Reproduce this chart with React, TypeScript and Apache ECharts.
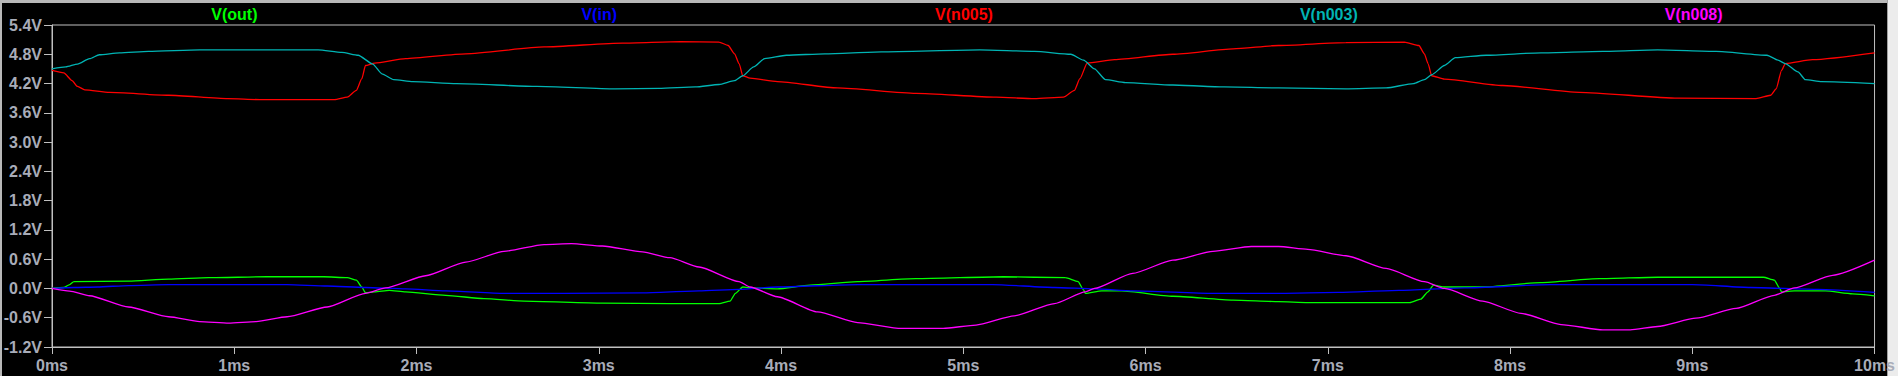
import React, { useEffect, useRef } from "react";
import * as echarts from "echarts";

const traceNames = ["V(out)", "V(in)", "V(n005)", "V(n003)", "V(n008)"];
const traceColors = ["#00ff00", "#0000ff", "#ff0000", "#00b4b4", "#ff00ff"];

const xTicksMs = { min: 0, max: 10, interval: 1 };
const yTicksV = { min: -1.2, max: 5.4, interval: 0.6 };

const outData = [
  [0, 0], [0.065, 0.02], [0.097, 0.08], [0.12, 0.14], [0.42, 0.15], [0.64, 0.19], [0.86, 0.22], [1.18, 0.24],
  [1.49, 0.24], [1.62, 0.22], [1.67, 0.17], [1.7, 0.03], [1.72, -0.09], [1.77, -0.07], [1.85, -0.04], [1.94, -0.07],
  [2.16, -0.14], [2.37, -0.21], [2.59, -0.26], [3.02, -0.3], [3.39, -0.31], [3.66, -0.31], [3.72, -0.26], [3.75, -0.1],
  [3.79, 0.03], [3.83, 0.01], [3.98, -0.01], [4.16, 0.07], [4.42, 0.14], [4.74, 0.2], [5.22, 0.24], [5.56, 0.22],
  [5.63, 0.14], [5.66, -0.03], [5.67, -0.1], [5.76, -0.05], [5.87, -0.05], [6.15, -0.16], [6.48, -0.24], [6.73, -0.27],
  [6.89, -0.29], [7.45, -0.29], [7.51, -0.22], [7.55, -0.07], [7.58, 0.07], [7.64, 0.03], [7.85, 0.03], [8.17, 0.12],
  [8.49, 0.2], [8.81, 0.23], [9.39, 0.23], [9.45, 0.17], [9.48, 0.0], [9.49, -0.07], [9.56, -0.05], [9.73, -0.05],
  [9.88, -0.11], [10, -0.15],
];

const inData = [
  [0, 0], [0.12, 0.02], [0.25, 0.03], [0.42, 0.06], [0.64, 0.08], [1.29, 0.08], [1.51, 0.05], [1.72, 0.02],
  [1.94, -0.01], [2.16, -0.05], [2.48, -0.1], [2.81, -0.1], [3.24, -0.09], [3.55, -0.05], [3.77, -0.02], [3.98, 0.03],
  [4.42, 0.08], [5.16, 0.08], [5.5, 0.02], [5.72, -0.01], [5.93, -0.05], [6.37, -0.1], [6.73, -0.1], [7.06, -0.08],
  [7.39, -0.04], [7.75, 0.01], [8.22, 0.08], [9.0, 0.08], [9.32, 0.02], [9.69, -0.02], [10, -0.08],
];

const n005Data = [
  [0, 4.47], [0.065, 4.42], [0.11, 4.26], [0.14, 4.14], [0.18, 4.07], [0.315, 4.02], [0.64, 3.96], [0.965, 3.89],
  [1.14, 3.87], [1.55, 3.87], [1.62, 3.92], [1.67, 4.06], [1.7, 4.3], [1.72, 4.57], [1.77, 4.62], [1.94, 4.71],
  [2.27, 4.81], [2.7, 4.95], [3.13, 5.03], [3.45, 5.06], [3.66, 5.05], [3.71, 4.98], [3.745, 4.81], [3.77, 4.61],
  [3.79, 4.36], [3.83, 4.31], [3.98, 4.24], [4.31, 4.11], [4.74, 4.0], [5.18, 3.92], [5.39, 3.89], [5.55, 3.92],
  [5.61, 4.06], [5.64, 4.3], [5.68, 4.62], [5.83, 4.69], [6.15, 4.8], [6.48, 4.91], [6.73, 4.98], [7.1, 5.04],
  [7.42, 5.05], [7.5, 4.98], [7.53, 4.81], [7.55, 4.61], [7.57, 4.36], [7.64, 4.29], [7.96, 4.16], [8.38, 4.02],
  [8.92, 3.9], [9.35, 3.89], [9.43, 3.96], [9.46, 4.09], [9.49, 4.47], [9.51, 4.61], [9.66, 4.69], [10, 4.83],
];

const n003Data = [
  [0, 4.5], [0.076, 4.54], [0.14, 4.6], [0.206, 4.71], [0.26, 4.79], [0.37, 4.83], [0.53, 4.86], [0.81, 4.89],
  [1.46, 4.89], [1.59, 4.84], [1.68, 4.78], [1.76, 4.6], [1.81, 4.4], [1.875, 4.28], [1.98, 4.24], [2.22, 4.2],
  [2.66, 4.14], [3.09, 4.09], [3.33, 4.1], [3.53, 4.13], [3.66, 4.18], [3.745, 4.26], [3.79, 4.36], [3.85, 4.54],
  [3.91, 4.71], [4.03, 4.78], [4.24, 4.81], [4.55, 4.85], [5.09, 4.89], [5.39, 4.86], [5.59, 4.8], [5.66, 4.68],
  [5.72, 4.5], [5.78, 4.28], [5.89, 4.22], [6.15, 4.17], [6.43, 4.13], [6.73, 4.11], [7.1, 4.09], [7.32, 4.11],
  [7.47, 4.2], [7.53, 4.28], [7.57, 4.38], [7.64, 4.57], [7.7, 4.73], [7.87, 4.78], [8.17, 4.83], [8.51, 4.86],
  [8.81, 4.89], [9.13, 4.86], [9.41, 4.78], [9.47, 4.68], [9.51, 4.61], [9.58, 4.44], [9.62, 4.28], [9.71, 4.24],
  [10, 4.2],
];

const n008Data = [
  [0, 0], [0.097, -0.055], [0.206, -0.15], [0.42, -0.38], [0.64, -0.58], [0.81, -0.68], [0.97, -0.71], [1.12, -0.68],
  [1.29, -0.58], [1.51, -0.38], [1.72, -0.1], [1.83, 0.01], [2.05, 0.26], [2.27, 0.54], [2.48, 0.76], [2.7, 0.9],
  [2.85, 0.92], [3.02, 0.87], [3.24, 0.75], [3.39, 0.63], [3.55, 0.44], [3.77, 0.14], [3.83, 0.03], [3.98, -0.17],
  [4.2, -0.48], [4.42, -0.7], [4.66, -0.82], [4.89, -0.82], [5.07, -0.75], [5.28, -0.56], [5.5, -0.31], [5.67, -0.07],
  [5.72, 0.0], [5.93, 0.31], [6.15, 0.58], [6.37, 0.76], [6.58, 0.86], [6.73, 0.86], [6.89, 0.8], [7.1, 0.67],
  [7.32, 0.41], [7.53, 0.14], [7.64, 0.0], [7.85, -0.26], [8.06, -0.51], [8.28, -0.74], [8.51, -0.85], [8.66, -0.85],
  [8.81, -0.78], [9.02, -0.61], [9.24, -0.41], [9.45, -0.14], [9.56, 0.01], [9.77, 0.27], [10, 0.58],
];

const allData = [outData, inData, n005Data, n003Data, n008Data];

const W = 1898;
const H = 376;
const GRID_LEFT = 52;
const GRID_RIGHT = 22;
const GRID_TOP = 25;
const GRID_BOTTOM = 29;
const LABEL_COLOR = "#a8acb8";
const AXIS_COLOR = "#c0c0c0";
const FONT = "'Liberation Sans', Arial, sans-serif";

export default function App() {
  const ref = useRef<HTMLDivElement>(null);

  useEffect(() => {
    if (!ref.current) return;
    const chart = echarts.init(ref.current, undefined, { renderer: "svg", width: W, height: H });
    const plotW = W - GRID_LEFT - GRID_RIGHT;
    const slot = plotW / traceNames.length;

    const titleTexts = traceNames.map((name, i) => ({
      type: "text",
      x: GRID_LEFT + slot * (i + 0.5),
      y: 14,
      style: {
        text: name,
        fill: traceColors[i],
        font: `bold 16px ${FONT}`,
        textAlign: "center",
        textVerticalAlign: "middle",
      },
    }));

    chart.setOption({
      animation: false,
      backgroundColor: "#000000",
      textStyle: { fontFamily: FONT },
      graphic: [
        { type: "rect", shape: { x: 0, y: 0, width: W, height: 3 }, style: { fill: "#b8b8b8" } },
        { type: "rect", shape: { x: 0, y: 0, width: 2, height: H }, style: { fill: "#b8b8b8" } },
        { type: "rect", shape: { x: 1887, y: 0, width: W - 1887, height: H }, style: { fill: "#ececec" } },
        { type: "rect", shape: { x: 1887, y: 0, width: 1, height: H }, style: { fill: "#a0a0a0" } },
        ...titleTexts,
      ],
      grid: {
        left: GRID_LEFT,
        right: GRID_RIGHT,
        top: GRID_TOP,
        bottom: GRID_BOTTOM,
        show: true,
        borderColor: AXIS_COLOR,
        borderWidth: 1,
        backgroundColor: "transparent",
      },
      xAxis: {
        type: "value",
        min: xTicksMs.min,
        max: xTicksMs.max,
        interval: xTicksMs.interval,
        axisLine: { show: true, onZero: false, lineStyle: { color: AXIS_COLOR, width: 1 } },
        axisTick: { show: true, length: 7, lineStyle: { color: AXIS_COLOR } },
        splitLine: { show: false },
        axisLabel: {
          color: LABEL_COLOR,
          fontWeight: "bold",
          fontSize: 16,
          fontFamily: FONT,
          margin: 10,
          formatter: (v: number) => `${Math.round(v)}ms`,
        },
      },
      yAxis: {
        type: "value",
        min: yTicksV.min,
        max: yTicksV.max,
        interval: yTicksV.interval,
        axisLine: { show: true, onZero: false, lineStyle: { color: AXIS_COLOR, width: 1 } },
        axisTick: { show: true, length: 8, lineStyle: { color: AXIS_COLOR } },
        splitLine: { show: false },
        axisLabel: {
          color: LABEL_COLOR,
          fontWeight: "bold",
          fontSize: 16,
          fontFamily: FONT,
          margin: 10,
          formatter: (v: number) => {
            const r = Math.round(v * 10) / 10;
            return `${(Math.abs(r) < 1e-9 ? 0 : r).toFixed(1)}V`;
          },
        },
      },
      series: traceNames.map((name, i) => ({
        name,
        type: "line",
        data: allData[i],
        showSymbol: false,
        symbol: "none",
        smooth: 0.2,
        smoothMonotone: "x",
        lineStyle: { color: traceColors[i], width: 1.3 },
        z: 2 + i,
      })),
    });

    return () => chart.dispose();
  }, []);

  return <div ref={ref} style={{ position: "fixed", left: 0, top: 0, width: W, height: H }} />;
}
